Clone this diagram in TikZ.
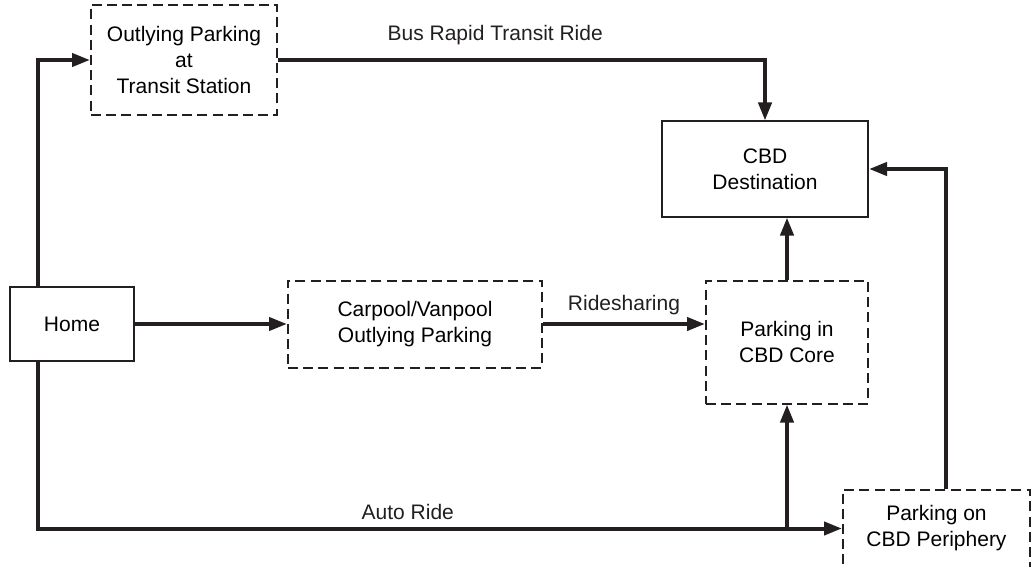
\documentclass[tikz,border=0pt]{standalone}
\usepackage{fontspec}
\setmainfont{Liberation Sans}
\usepackage{tikz}
\usetikzlibrary{arrows.meta, positioning, calc}
\definecolor{ink}{RGB}{35,31,32}

\begin{document}
\begin{tikzpicture}[
    font=\fontsize{10.5}{13}\selectfont,
    box/.style={rectangle, draw=ink, line width=1pt, align=center, inner sep=2pt},
    dbox/.style={box, dash pattern=on 5pt off 2.6pt},
    arrow/.style={-{Triangle[length=9pt, width=6.5pt]}, line width=2pt, ink}
]
\useasboundingbox (0,0) rectangle (516.5pt,-283.5pt);

% Start node
\node[box, minimum width=62pt, minimum height=37pt] (home) at (36pt,-162pt) {Home};

% Parking nodes
\node[dbox, minimum width=93pt, minimum height=55pt, above right=85pt and 40.5pt of home.north west, anchor=south west] (outlying) {Outlying Parking\\at\\Transit Station};
\node[dbox, minimum width=127pt, minimum height=43.5pt, right=76pt of home] (carpool) {Carpool/Vanpool\\Outlying Parking};
\node[dbox, minimum width=81pt, minimum height=61.5pt, right=81pt of carpool.north east, anchor=north west] (core) {Parking in\\CBD Core};
\node[dbox, minimum width=93.5pt, minimum height=39pt, below right=42pt and -13.5pt of core.south east] (periphery) {Parking on\\CBD Periphery};

% Destination node
\node[box, minimum width=103pt, minimum height=47.5pt, above=31pt of core.north east, anchor=south east] (dest) {CBD\\Destination};

% Arrows
\draw[arrow] ([xshift=-17pt]home.north) |- (outlying.west);
\draw[arrow] (outlying.east) -| (dest.north) node[pos=0.223, above=3pt] {Bus Rapid Transit Ride};
\draw[arrow] (home) -- (carpool);
\draw[arrow] (carpool.east) -- (carpool.east -| core.west) node[midway, above] {Ridesharing};
\draw[arrow] (core.north) -- (core.north |- dest.south);
\draw[arrow] ([xshift=-17pt]home.south) |- (periphery.west) node[pos=0.73, above] {Auto Ride};
\coordinate (branch) at (core.south |- periphery.west);
\draw[arrow] (branch) -- (core.south);
\draw[arrow] ([xshift=4.75pt]periphery.north) |- (dest.east);

\end{tikzpicture}
\end{document}
